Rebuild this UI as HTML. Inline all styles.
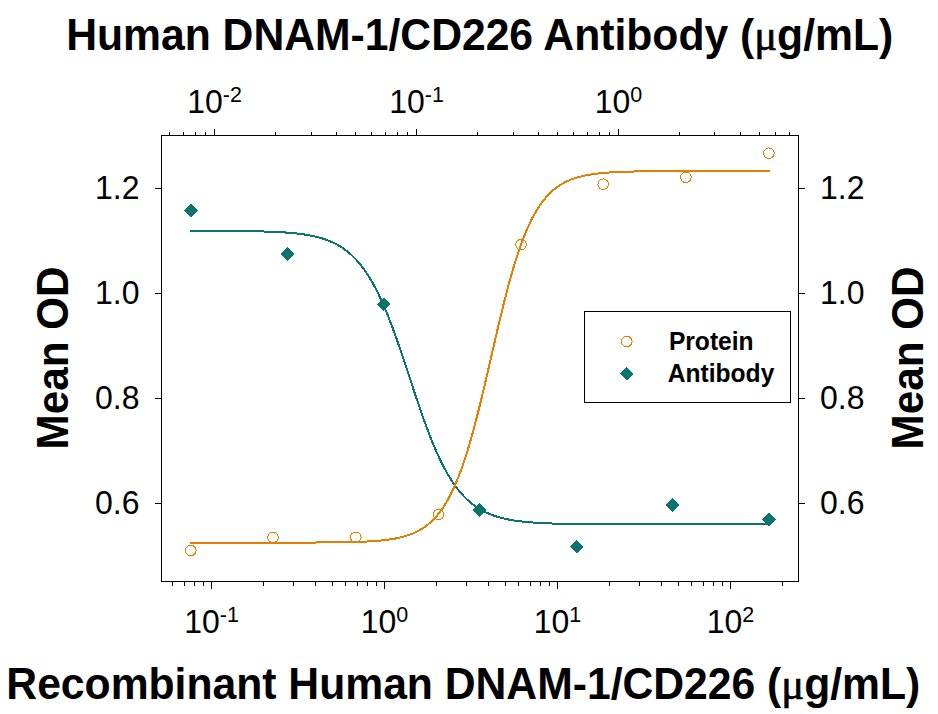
<!DOCTYPE html><html><head><meta charset="utf-8"><title>chart</title><style>html,body{margin:0;padding:0;background:#fff}svg{display:block}text{font-family:"Liberation Sans",Arial,sans-serif;fill:#000}.b{font-weight:bold}.mu{font-family:"Liberation Serif","DejaVu Serif",serif;font-weight:normal;stroke:#000;stroke-width:.7px}</style></head><body>
<svg width="938" height="714" viewBox="0 0 938 714">
<rect width="938" height="714" fill="#fff"/>
<path d="M190.0,230.83 L192.0,230.84 L194.0,230.84 L196.0,230.84 L198.0,230.85 L200.0,230.85 L202.0,230.85 L204.0,230.86 L206.0,230.86 L208.0,230.87 L210.0,230.87 L212.0,230.88 L214.0,230.89 L216.0,230.90 L218.0,230.90 L220.0,230.91 L222.0,230.92 L224.0,230.93 L226.0,230.95 L228.0,230.96 L230.0,230.97 L232.0,230.99 L234.0,231.00 L236.0,231.02 L238.0,231.04 L240.0,231.06 L242.0,231.08 L244.0,231.11 L246.0,231.13 L248.0,231.16 L250.0,231.19 L252.0,231.23 L254.0,231.26 L256.0,231.30 L258.0,231.35 L260.0,231.39 L262.0,231.44 L264.0,231.50 L266.0,231.56 L268.0,231.63 L270.0,231.70 L272.0,231.77 L274.0,231.86 L276.0,231.95 L278.0,232.05 L280.0,232.16 L282.0,232.27 L284.0,232.40 L286.0,232.54 L288.0,232.69 L290.0,232.85 L292.0,233.02 L294.0,233.21 L296.0,233.42 L298.0,233.65 L300.0,233.89 L302.0,234.15 L304.0,234.44 L306.0,234.75 L308.0,235.09 L310.0,235.45 L312.0,235.85 L314.0,236.27 L316.0,236.74 L318.0,237.24 L320.0,237.78 L322.0,238.37 L324.0,239.01 L326.0,239.69 L328.0,240.44 L330.0,241.24 L332.0,242.11 L334.0,243.04 L336.0,244.06 L338.0,245.15 L340.0,246.32 L342.0,247.58 L344.0,248.95 L346.0,250.41 L348.0,251.98 L350.0,253.67 L352.0,255.48 L354.0,257.42 L356.0,259.50 L358.0,261.72 L360.0,264.08 L362.0,266.61 L364.0,269.30 L366.0,272.16 L368.0,275.19 L370.0,278.41 L372.0,281.81 L374.0,285.40 L376.0,289.18 L378.0,293.15 L380.0,297.32 L382.0,301.68 L384.0,306.23 L386.0,310.97 L388.0,315.89 L390.0,320.98 L392.0,326.24 L394.0,331.66 L396.0,337.22 L398.0,342.90 L400.0,348.70 L402.0,354.59 L404.0,360.56 L406.0,366.59 L408.0,372.65 L410.0,378.73 L412.0,384.81 L414.0,390.86 L416.0,396.87 L418.0,402.81 L420.0,408.67 L422.0,414.42 L424.0,420.06 L426.0,425.56 L428.0,430.92 L430.0,436.12 L432.0,441.14 L434.0,445.99 L436.0,450.66 L438.0,455.14 L440.0,459.43 L442.0,463.52 L444.0,467.42 L446.0,471.12 L448.0,474.64 L450.0,477.96 L452.0,481.11 L454.0,484.07 L456.0,486.87 L458.0,489.49 L460.0,491.95 L462.0,494.26 L464.0,496.43 L466.0,498.45 L468.0,500.34 L470.0,502.10 L472.0,503.74 L474.0,505.27 L476.0,506.70 L478.0,508.02 L480.0,509.25 L482.0,510.39 L484.0,511.45 L486.0,512.43 L488.0,513.34 L490.0,514.18 L492.0,514.96 L494.0,515.68 L496.0,516.35 L498.0,516.96 L500.0,517.53 L502.0,518.06 L504.0,518.55 L506.0,519.00 L508.0,519.41 L510.0,519.79 L512.0,520.15 L514.0,520.47 L516.0,520.77 L518.0,521.05 L520.0,521.31 L522.0,521.54 L524.0,521.76 L526.0,521.96 L528.0,522.15 L530.0,522.32 L532.0,522.47 L534.0,522.62 L536.0,522.75 L538.0,522.87 L540.0,522.99 L542.0,523.09 L544.0,523.19 L546.0,523.27 L548.0,523.36 L550.0,523.43 L552.0,523.50 L554.0,523.56 L556.0,523.62 L558.0,523.68 L560.0,523.73 L562.0,523.77 L564.0,523.81 L566.0,523.85 L568.0,523.89 L570.0,523.92 L572.0,523.95 L574.0,523.98 L576.0,524.00 L578.0,524.03 L580.0,524.05 L582.0,524.07 L584.0,524.09 L586.0,524.10 L588.0,524.12 L590.0,524.13 L592.0,524.15 L594.0,524.16 L596.0,524.17 L598.0,524.18 L600.0,524.19 L602.0,524.20 L604.0,524.21 L606.0,524.21 L608.0,524.22 L610.0,524.23 L612.0,524.23 L614.0,524.24 L616.0,524.24 L618.0,524.25 L620.0,524.25 L622.0,524.26 L624.0,524.26 L626.0,524.26 L628.0,524.27 L630.0,524.27 L632.0,524.27 L634.0,524.27 L636.0,524.28 L638.0,524.28 L640.0,524.28 L642.0,524.28 L644.0,524.28 L646.0,524.28 L648.0,524.28 L650.0,524.29 L652.0,524.29 L654.0,524.29 L656.0,524.29 L658.0,524.29 L660.0,524.29 L662.0,524.29 L664.0,524.29 L666.0,524.29 L668.0,524.29 L670.0,524.29 L672.0,524.29 L674.0,524.29 L676.0,524.30 L678.0,524.30 L680.0,524.30 L682.0,524.30 L684.0,524.30 L686.0,524.30 L688.0,524.30 L690.0,524.30 L692.0,524.30 L694.0,524.30 L696.0,524.30 L698.0,524.30 L700.0,524.30 L702.0,524.30 L704.0,524.30 L706.0,524.30 L708.0,524.30 L710.0,524.30 L712.0,524.30 L714.0,524.30 L716.0,524.30 L718.0,524.30 L720.0,524.30 L722.0,524.30 L724.0,524.30 L726.0,524.30 L728.0,524.30 L730.0,524.30 L732.0,524.30 L734.0,524.30 L736.0,524.30 L738.0,524.30 L740.0,524.30 L742.0,524.30 L744.0,524.30 L746.0,524.30 L748.0,524.30 L750.0,524.30 L752.0,524.30 L754.0,524.30 L756.0,524.30 L758.0,524.30 L760.0,524.30 L762.0,524.30 L764.0,524.30 L766.0,524.30 L768.0,524.30 L770.0,524.30" fill="none" stroke="#0C7470" stroke-width="2" shape-rendering="crispEdges"/>
<path d="M190.0,542.60 L192.0,542.60 L194.0,542.60 L196.0,542.60 L198.0,542.60 L200.0,542.60 L202.0,542.60 L204.0,542.60 L206.0,542.60 L208.0,542.60 L210.0,542.60 L212.0,542.60 L214.0,542.60 L216.0,542.60 L218.0,542.60 L220.0,542.60 L222.0,542.60 L224.0,542.60 L226.0,542.60 L228.0,542.60 L230.0,542.60 L232.0,542.60 L234.0,542.60 L236.0,542.60 L238.0,542.60 L240.0,542.60 L242.0,542.60 L244.0,542.60 L246.0,542.60 L248.0,542.60 L250.0,542.60 L252.0,542.60 L254.0,542.59 L256.0,542.59 L258.0,542.59 L260.0,542.59 L262.0,542.59 L264.0,542.59 L266.0,542.59 L268.0,542.59 L270.0,542.59 L272.0,542.59 L274.0,542.59 L276.0,542.58 L278.0,542.58 L280.0,542.58 L282.0,542.58 L284.0,542.58 L286.0,542.58 L288.0,542.57 L290.0,542.57 L292.0,542.57 L294.0,542.56 L296.0,542.56 L298.0,542.56 L300.0,542.55 L302.0,542.55 L304.0,542.54 L306.0,542.54 L308.0,542.53 L310.0,542.53 L312.0,542.52 L314.0,542.51 L316.0,542.50 L318.0,542.49 L320.0,542.48 L322.0,542.47 L324.0,542.46 L326.0,542.44 L328.0,542.43 L330.0,542.41 L332.0,542.39 L334.0,542.37 L336.0,542.35 L338.0,542.32 L340.0,542.29 L342.0,542.26 L344.0,542.23 L346.0,542.20 L348.0,542.16 L350.0,542.11 L352.0,542.06 L354.0,542.01 L356.0,541.95 L358.0,541.89 L360.0,541.82 L362.0,541.74 L364.0,541.66 L366.0,541.57 L368.0,541.47 L370.0,541.35 L372.0,541.23 L374.0,541.10 L376.0,540.95 L378.0,540.79 L380.0,540.61 L382.0,540.42 L384.0,540.20 L386.0,539.97 L388.0,539.71 L390.0,539.43 L392.0,539.12 L394.0,538.78 L396.0,538.41 L398.0,538.00 L400.0,537.55 L402.0,537.06 L404.0,536.53 L406.0,535.94 L408.0,535.30 L410.0,534.59 L412.0,533.82 L414.0,532.98 L416.0,532.06 L418.0,531.05 L420.0,529.95 L422.0,528.75 L424.0,527.45 L426.0,526.02 L428.0,524.47 L430.0,522.77 L432.0,520.94 L434.0,518.94 L436.0,516.77 L438.0,514.42 L440.0,511.87 L442.0,509.11 L444.0,506.14 L446.0,502.93 L448.0,499.48 L450.0,495.76 L452.0,491.78 L454.0,487.52 L456.0,482.96 L458.0,478.10 L460.0,472.94 L462.0,467.47 L464.0,461.68 L466.0,455.57 L468.0,449.16 L470.0,442.43 L472.0,435.41 L474.0,428.10 L476.0,420.53 L478.0,412.71 L480.0,404.66 L482.0,396.42 L484.0,388.01 L486.0,379.47 L488.0,370.83 L490.0,362.13 L492.0,353.40 L494.0,344.69 L496.0,336.03 L498.0,327.46 L500.0,319.02 L502.0,310.74 L504.0,302.65 L506.0,294.78 L508.0,287.15 L510.0,279.79 L512.0,272.70 L514.0,265.91 L516.0,259.43 L518.0,253.26 L520.0,247.40 L522.0,241.86 L524.0,236.63 L526.0,231.71 L528.0,227.09 L530.0,222.76 L532.0,218.72 L534.0,214.95 L536.0,211.44 L538.0,208.18 L540.0,205.16 L542.0,202.36 L544.0,199.76 L546.0,197.37 L548.0,195.16 L550.0,193.13 L552.0,191.26 L554.0,189.54 L556.0,187.95 L558.0,186.50 L560.0,185.17 L562.0,183.95 L564.0,182.83 L566.0,181.80 L568.0,180.86 L570.0,180.00 L572.0,179.22 L574.0,178.50 L576.0,177.84 L578.0,177.24 L580.0,176.70 L582.0,176.20 L584.0,175.74 L586.0,175.33 L588.0,174.95 L590.0,174.60 L592.0,174.29 L594.0,174.00 L596.0,173.73 L598.0,173.50 L600.0,173.28 L602.0,173.08 L604.0,172.90 L606.0,172.73 L608.0,172.58 L610.0,172.45 L612.0,172.32 L614.0,172.21 L616.0,172.10 L618.0,172.01 L620.0,171.92 L622.0,171.85 L624.0,171.77 L626.0,171.71 L628.0,171.65 L630.0,171.60 L632.0,171.55 L634.0,171.50 L636.0,171.46 L638.0,171.43 L640.0,171.39 L642.0,171.36 L644.0,171.33 L646.0,171.31 L648.0,171.28 L650.0,171.26 L652.0,171.24 L654.0,171.23 L656.0,171.21 L658.0,171.20 L660.0,171.18 L662.0,171.17 L664.0,171.16 L666.0,171.15 L668.0,171.14 L670.0,171.13 L672.0,171.13 L674.0,171.12 L676.0,171.11 L678.0,171.11 L680.0,171.10 L682.0,171.10 L684.0,171.09 L686.0,171.09 L688.0,171.09 L690.0,171.08 L692.0,171.08 L694.0,171.08 L696.0,171.07 L698.0,171.07 L700.0,171.07 L702.0,171.07 L704.0,171.07 L706.0,171.07 L708.0,171.06 L710.0,171.06 L712.0,171.06 L714.0,171.06 L716.0,171.06 L718.0,171.06 L720.0,171.06 L722.0,171.06 L724.0,171.06 L726.0,171.06 L728.0,171.06 L730.0,171.05 L732.0,171.05 L734.0,171.05 L736.0,171.05 L738.0,171.05 L740.0,171.05 L742.0,171.05 L744.0,171.05 L746.0,171.05 L748.0,171.05 L750.0,171.05 L752.0,171.05 L754.0,171.05 L756.0,171.05 L758.0,171.05 L760.0,171.05 L762.0,171.05 L764.0,171.05 L766.0,171.05 L768.0,171.05 L770.0,171.05" fill="none" stroke="#E67E00" stroke-width="2" shape-rendering="crispEdges"/>
<circle cx="190.8" cy="550.5" r="5.3" fill="none" stroke="#E67E00" stroke-width="1" shape-rendering="crispEdges"/>
<circle cx="273" cy="537.3" r="5.3" fill="none" stroke="#E67E00" stroke-width="1" shape-rendering="crispEdges"/>
<circle cx="355.8" cy="537.3" r="5.3" fill="none" stroke="#E67E00" stroke-width="1" shape-rendering="crispEdges"/>
<circle cx="438.5" cy="514.5" r="5.3" fill="none" stroke="#E67E00" stroke-width="1" shape-rendering="crispEdges"/>
<circle cx="521" cy="244.7" r="5.3" fill="none" stroke="#E67E00" stroke-width="1" shape-rendering="crispEdges"/>
<circle cx="603.2" cy="184.2" r="5.3" fill="none" stroke="#E67E00" stroke-width="1" shape-rendering="crispEdges"/>
<circle cx="685.9" cy="177.3" r="5.3" fill="none" stroke="#E67E00" stroke-width="1" shape-rendering="crispEdges"/>
<circle cx="768.9" cy="153.2" r="5.3" fill="none" stroke="#E67E00" stroke-width="1" shape-rendering="crispEdges"/>
<path d="M184.3,210.5 L191,203.8 L197.7,210.5 L191,217.2Z" fill="#0C7470" shape-rendering="crispEdges"/>
<path d="M280.7,254 L287.4,247.3 L294.09999999999997,254 L287.4,260.7Z" fill="#0C7470" shape-rendering="crispEdges"/>
<path d="M377.0,304.4 L383.7,297.7 L390.4,304.4 L383.7,311.09999999999997Z" fill="#0C7470" shape-rendering="crispEdges"/>
<path d="M472.90000000000003,510 L479.6,503.3 L486.3,510 L479.6,516.7Z" fill="#0C7470" shape-rendering="crispEdges"/>
<path d="M569.9,546.8 L576.6,540.0999999999999 L583.3000000000001,546.8 L576.6,553.5Z" fill="#0C7470" shape-rendering="crispEdges"/>
<path d="M665.6999999999999,505.1 L672.4,498.40000000000003 L679.1,505.1 L672.4,511.8Z" fill="#0C7470" shape-rendering="crispEdges"/>
<path d="M762.3,519.6 L769,512.9 L775.7,519.6 L769,526.3000000000001Z" fill="#0C7470" shape-rendering="crispEdges"/>
<rect x="161.5" y="135.5" width="637.0" height="446.0" fill="none" stroke="#000" stroke-width="1"/>
<path d="M155.0,188.5H161.5M798.5,188.5H805.0 M155.0,293.5H161.5M798.5,293.5H805.0 M155.0,398.49999999999994H161.5M798.5,398.49999999999994H805.0 M155.0,503.5H161.5M798.5,503.5H805.0 M169.5,135.5V132.0 M183.5,135.5V132.0 M195.5,135.5V132.0 M205.5,135.5V132.0 M214.5,135.5V129.0 M275.5,135.5V132.0 M311.5,135.5V132.0 M336.5,135.5V132.0 M355.5,135.5V132.0 M371.5,135.5V132.0 M172.5,581.5V586.0 M385.5,135.5V132.0 M184.5,581.5V586.0 M397.5,135.5V132.0 M194.5,581.5V586.0 M407.5,135.5V132.0 M203.5,581.5V586.0 M416.5,135.5V129.0 M211.5,581.5V589.0 M477.5,135.5V132.0 M263.5,581.5V586.0 M513.5,135.5V132.0 M293.5,581.5V586.0 M538.5,135.5V132.0 M315.5,581.5V586.0 M557.5,135.5V132.0 M332.5,581.5V586.0 M573.5,135.5V132.0 M345.5,581.5V586.0 M587.5,135.5V132.0 M357.5,581.5V586.0 M599.5,135.5V132.0 M367.5,581.5V586.0 M609.5,135.5V132.0 M376.5,581.5V586.0 M618.5,135.5V129.0 M384.5,581.5V589.0 M679.5,135.5V132.0 M436.5,581.5V586.0 M714.5,135.5V132.0 M466.5,581.5V586.0 M740.5,135.5V132.0 M488.5,581.5V586.0 M759.5,135.5V132.0 M505.5,581.5V586.0 M775.5,135.5V132.0 M518.5,581.5V586.0 M789.5,135.5V132.0 M530.5,581.5V586.0 M540.5,581.5V586.0 M549.5,581.5V586.0 M557.5,581.5V589.0 M609.5,581.5V586.0 M639.5,581.5V586.0 M661.5,581.5V586.0 M678.5,581.5V586.0 M691.5,581.5V586.0 M703.5,581.5V586.0 M713.5,581.5V586.0 M722.5,581.5V586.0 M730.5,581.5V589.0 M782.5,581.5V586.0" stroke="#000" stroke-width="1" fill="none"/>
<text font-size="32" text-anchor="end" transform="translate(139.5,199.2) scale(1,1.04)">1.2</text>
<text font-size="32" text-anchor="start" transform="translate(820,199.2) scale(1,1.04)">1.2</text>
<text font-size="32" text-anchor="end" transform="translate(139.5,304.2) scale(1,1.04)">1.0</text>
<text font-size="32" text-anchor="start" transform="translate(820,304.2) scale(1,1.04)">1.0</text>
<text font-size="32" text-anchor="end" transform="translate(139.5,409.19999999999993) scale(1,1.04)">0.8</text>
<text font-size="32" text-anchor="start" transform="translate(820,409.19999999999993) scale(1,1.04)">0.8</text>
<text font-size="32" text-anchor="end" transform="translate(139.5,514.2) scale(1,1.04)">0.6</text>
<text font-size="32" text-anchor="start" transform="translate(820,514.2) scale(1,1.04)">0.6</text>
<text font-size="32" text-anchor="middle" transform="translate(214.5,113) scale(1,1.04)">10<tspan font-size="21.5" dy="-10.4">-2</tspan></text>
<text font-size="32" text-anchor="middle" transform="translate(416.5,113) scale(1,1.04)">10<tspan font-size="21.5" dy="-10.4">-1</tspan></text>
<text font-size="32" text-anchor="middle" transform="translate(618.5,113) scale(1,1.04)">10<tspan font-size="21.5" dy="-10.4">0</tspan></text>
<text font-size="32" text-anchor="middle" transform="translate(211.5,633) scale(1,1.04)">10<tspan font-size="21.5" dy="-10.4">-1</tspan></text>
<text font-size="32" text-anchor="middle" transform="translate(384.5,633) scale(1,1.04)">10<tspan font-size="21.5" dy="-10.4">0</tspan></text>
<text font-size="32" text-anchor="middle" transform="translate(557.5,633) scale(1,1.04)">10<tspan font-size="21.5" dy="-10.4">1</tspan></text>
<text font-size="32" text-anchor="middle" transform="translate(730.5,633) scale(1,1.04)">10<tspan font-size="21.5" dy="-10.4">2</tspan></text>
<text class="b" font-size="42.67" text-anchor="middle" transform="translate(479.7,50.4) scale(1,1.04)">Human DNAM-1/CD226 Antibody (<tspan class="mu">μ</tspan>g/mL)</text>
<text class="b" font-size="42.67" text-anchor="middle" transform="translate(463.3,699.05) scale(1,1.04)">Recombinant Human DNAM-1/CD226 (<tspan class="mu">μ</tspan>g/mL)</text>
<text class="b" font-size="42.2" text-anchor="middle" transform="translate(67.8,358) rotate(-90) scale(1,1.04)">Mean OD</text>
<text class="b" font-size="42.2" text-anchor="middle" transform="translate(923.3,358) rotate(-90) scale(1,1.04)">Mean OD</text>
<rect x="584.5" y="311.5" width="206" height="91" fill="#fff" stroke="#000" stroke-width="1"/>
<circle cx="626.8" cy="341.5" r="5.3" fill="none" stroke="#E67E00" stroke-width="1" shape-rendering="crispEdges"/>
<path d="M620.0999999999999,373.7 L626.8,367.0 L633.5,373.7 L626.8,380.4Z" fill="#0C7470" shape-rendering="crispEdges"/>
<text class="b" font-size="24.6" text-anchor="start" transform="translate(668.9,350.3) scale(1,1.04)">Protein</text>
<text class="b" font-size="24.6" text-anchor="start" transform="translate(667.8,381.6) scale(1,1.04)">Antibody</text>
</svg></body></html>
